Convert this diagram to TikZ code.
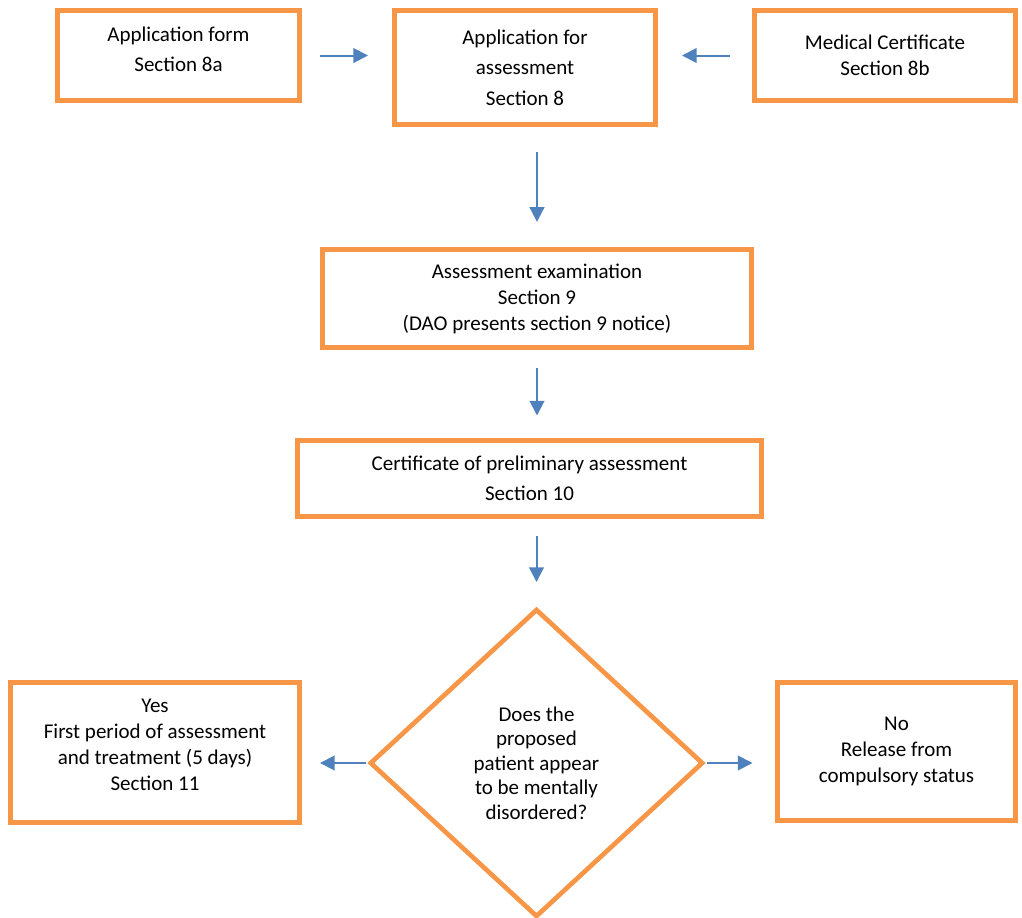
\documentclass[tikz,border=0pt]{standalone}
\usepackage{fontspec}
\setmainfont{Carlito}
\usetikzlibrary{arrows.meta,shapes.geometric,positioning}
\definecolor{boxorange}{HTML}{F79646}
\definecolor{flowblue}{HTML}{4F81BD}
\tikzset{
    stage/.style={
        draw=boxorange,
        line width=3.5pt,
        rectangle,
        align=center,
        fill=white,
        font=\fontsize{15.75}{19.5}\selectfont
    },
    question/.style={
        draw=boxorange,
        line width=3.5pt,
        diamond,
        align=center,
        inner sep=0pt,
        font=\fontsize{15.75}{18.4}\selectfont
    },
    flow/.style={
        draw=flowblue,
        line width=1.5pt,
        -{Triangle[length=11pt,width=11pt]}
    }
}

\begin{document}
\begin{tikzpicture}[x=0.75pt,y=-0.75pt]
        \useasboundingbox (0,0) rectangle (1022,918);

        \node[stage,minimum width=181.5pt,minimum height=67.5pt,text depth=10pt,
              font=\fontsize{15.75}{22.5}\selectfont] (Form) at (178.5,55.5) {
                Application form\\
                Section 8a
                };

        \node[stage,minimum width=196pt,minimum height=85.5pt,
              font=\fontsize{15.75}{23}\selectfont] (Application) at (525,67.5) {
                Application for\\
                assessment\\
                Section 8
                };

        \node[stage,minimum width=196pt,minimum height=67.5pt] (Certificate) at (885,55.5) {
                Medical Certificate\\
                Section 8b
                };

        \node[stage,minimum width=322pt,minimum height=73.5pt] (Examination) at (537,298.5) {
                Assessment examination\\
                Section 9\\
                (DAO presents section 9 notice)
                };

        \node[stage,minimum width=348pt,minimum height=57pt,
              font=\fontsize{15.75}{22.5}\selectfont] (Preliminary) at (529.5,478.5) {
                Certificate of preliminary assessment\\
                Section 10
                };

        \node[question,minimum width=250pt,minimum height=231pt] (Disordered) at (536.5,763) {
                Does the\\
                proposed\\
                patient appear\\
                to be mentally\\
                disordered?
                };

        \node[stage,minimum width=217pt,minimum height=105pt,text depth=11.5pt] (Yes) at (155,752.5) {
                Yes\\
                First period of assessment\\
                and treatment (5 days)\\
                Section 11
                };

        \node[stage,minimum width=178.5pt,minimum height=103.5pt] (No) at (896.5,751.5) {
                No\\
                Release from\\
                compulsory status
                };

        % arrows between the stages
        \draw[flow,shorten <=13.5pt,shorten >=18pt] (Form.east) -- (Form.east -| Application.west);
        \draw[flow,shorten <=16.5pt,shorten >=18pt] (Certificate.west) -- (Certificate.west -| Application.east);
        \draw[flow,shorten <=19pt,shorten >=19pt] (Application.south -| Examination.north) -- (Examination.north);
        \draw[flow,shorten <=13.5pt,shorten >=17pt] (Examination.south) -- (Examination.south |- Preliminary.north);
        \draw[flow,shorten <=12.5pt,shorten >=18.5pt] (Preliminary.south -| Disordered.north) -- (Disordered.north);
        \draw[flow,shorten <=1pt,shorten >=13.5pt] (Disordered.west) -- (Disordered.west -| Yes.east);
        \draw[flow,shorten <=1pt,shorten >=17pt] (Disordered.east) -- (Disordered.east -| No.west);
\end{tikzpicture}
\end{document}
